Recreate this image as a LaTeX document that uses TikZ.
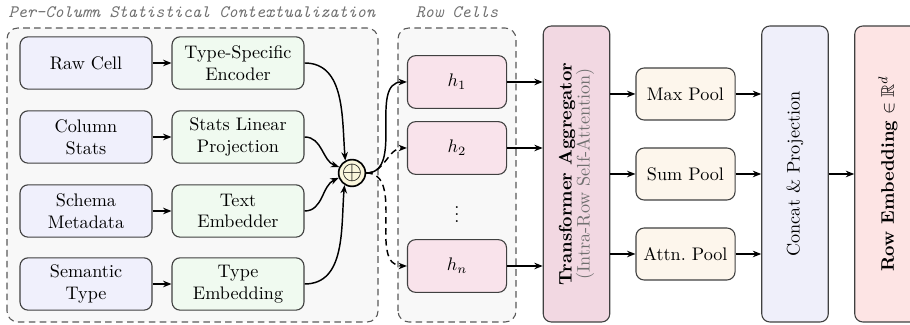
\documentclass[tikz,border=0pt]{standalone}
\usepackage{amssymb}
\usetikzlibrary{arrows.meta,calc}
\definecolor{inblue}{HTML}{F0F0FC}
\definecolor{encgreen}{HTML}{F0FAF0}
\definecolor{grpgray}{HTML}{F8F8F8}
\definecolor{hpink}{HTML}{F9E3EB}
\definecolor{trpink}{HTML}{F2D8E2}
\definecolor{poolcream}{HTML}{FDF6EC}
\definecolor{catblue}{HTML}{EFEFFA}
\definecolor{embpink}{HTML}{FDE4E4}
\definecolor{opcream}{HTML}{FAF6DC}
\definecolor{bordergray}{HTML}{404040}
\definecolor{titlegray}{HTML}{707070}
\begin{document}
\begin{tikzpicture}[x=0.55pt,y=0.55pt,
  box/.style={draw=bordergray, line width=0.6pt, rounded corners=4.5pt, align=center, inner sep=1pt},
  inbox/.style={box, fill=inblue, minimum width=72.6pt, minimum height=28.8pt},
  encbox/.style={box, fill=encgreen, minimum width=72.6pt, minimum height=28.8pt},
  hbox/.style={box, fill=hpink, minimum width=54.5pt, minimum height=29pt},
  poolbox/.style={box, fill=poolcream, minimum width=54.5pt, minimum height=28.6pt},
  bigbox/.style={box, minimum width=36.6pt, minimum height=162.8pt},
  group/.style={draw=black!65, dash pattern=on 3.6pt off 2.4pt, line width=0.6pt, fill=grpgray, rounded corners=6pt},
  grouptitle/.style={text=titlegray, font=\fontsize{9.6}{11}\selectfont\ttfamily\itshape},
  arr/.style={-{Stealth[length=4.6pt,width=3.6pt]}, line width=0.8pt},
  darr/.style={arr, dash pattern=on 3.6pt off 2.4pt}
]
\useasboundingbox (0,0) rectangle (910,325);
% groups
\draw[group] (7,3) rectangle (378,297);
\draw[group] (398,3) rectangle (516,297);
\node[grouptitle] (t1) at (192,313) {Per-Column Statistical Contextualization};
\node[grouptitle] (t2) at (457,313) {Row Cells};
% inputs
\node[inbox] (raw) at (86,262) {Raw Cell};
\node[inbox] (col) at (86,188) {Column\\Stats};
\node[inbox] (sch) at (86,114) {Schema\\Metadata};
\node[inbox] (sem) at (86,41) {Semantic\\Type};
\node[encbox] (enc) at (238,262) {Type-Specific\\Encoder};
\node[encbox] (sta) at (238,188) {Stats Linear\\Projection};
\node[encbox] (txt) at (238,114) {Text\\Embedder};
\node[encbox] (typ) at (238,41) {Type\\Embedding};
\foreach \a/\b in {raw/enc,col/sta,sch/txt,sem/typ} \draw[arr] (\a) -- (\b);
% oplus
\node[circle, draw=black, line width=0.9pt, fill=opcream, minimum size=14.5pt, inner sep=0pt, font=\Large] (op) at (352,152) {$\oplus$};
\draw[arr] (enc.east) to[out=0,in=95] (op.118);
\draw[arr] (sta.east) to[out=0,in=160] (op.155);
\draw[arr] (txt.east) to[out=0,in=205] (op.200);
\draw[arr] (typ.east) to[out=0,in=265] (op.238);
% row cells
\node[hbox] (h1) at (457,243) {$h_1$};
\node[hbox] (h2) at (457,177) {$h_2$};
\node[hbox] (hn) at (457,59) {$h_n$};
\node (dots) at (457,116) {$\vdots$};
\draw[arr] (op.east) to[out=0,in=180] (h1.west);
\draw[darr] (op.east) to[out=0,in=180] (h2.west);
\draw[darr] (op.east) to[out=0,in=180] (hn.west);
% transformer
\node[bigbox, fill=trpink] (tr) at (576.5,151) {};
\node[rotate=90, align=center, inner sep=0pt] (trt) at (576.5,151) {\textbf{Transformer Aggregator}\\[-2pt]\textcolor{titlegray}{(Intra-Row Self-Attention)}};
\foreach \h in {h1,h2,hn} \draw[arr] (\h.east) -- (\h.east -| tr.west);
% pools
\node[poolbox] (maxp) at (685.5,231) {Max Pool};
\node[poolbox] (sump) at (685.5,151) {Sum Pool};
\node[poolbox] (attp) at (685.5,71) {Attn.\ Pool};
% concat
\node[bigbox, fill=catblue] (cat) at (795,151) {};
\node[rotate=90, inner sep=0pt] (catt) at (795,151) {Concat \& Projection};
\foreach \p in {maxp,sump,attp} {
  \draw[arr] (\p.west -| tr.east) -- (\p.west);
  \draw[arr] (\p.east) -- (\p.east -| cat.west);
}
% output
\node[bigbox, fill=embpink] (emb) at (888,151) {};
\node[rotate=90, inner sep=0pt] (embt) at (888,151) {\textbf{Row Embedding} $\in\mathbb{R}^d$};
\draw[arr] (cat.east) -- (emb.west);
\end{tikzpicture}
\end{document}
